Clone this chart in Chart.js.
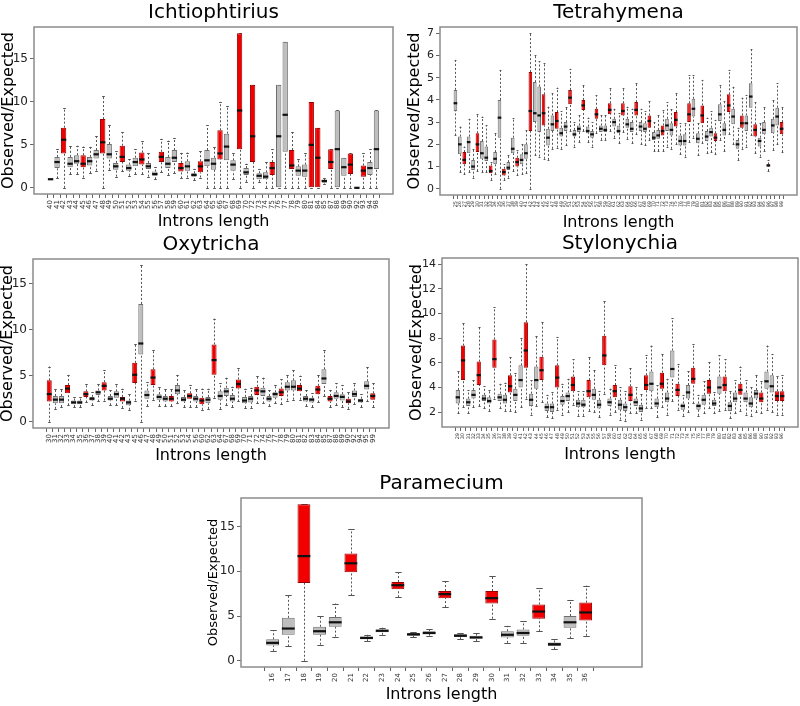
<!DOCTYPE html>
<html>
<head>
<meta charset="utf-8">
<script src="https://cdn.jsdelivr.net/npm/chart.js@4.4.1/dist/chart.umd.min.js"></script>
<style>
  body { margin: 0; background: #fff; width: 800px; height: 706px; position: relative; overflow: hidden; font-family: "DejaVu Sans", sans-serif; }
  canvas { position: absolute; }
</style>
</head>
<body>
<canvas id="ich"></canvas>
<canvas id="tet"></canvas>
<canvas id="oxy"></canvas>
<canvas id="sty"></canvas>
<canvas id="par"></canvas>
<script>
// ─── Ichtiophtirius ─────────────────────────────────────────────────────
var ichLabels = [40,41,42,43,44,45,46,47,48,49,50,51,52,53,54,55,56,57,58,59,60,61,62,63,64,65,66,67,68,69,70,72,73,74,75,76,77,78,79,80,81,84,85,87,88,89,90,92,93,94,98];
var ichLow  = [1.0,1.1,0,1.6,1.6,1.2,1.7,2.0,0,2.1, 1.3,1.9,1.4,1.6,1.6,1.3,1.0,1.8,1.5,1.7, 1.1,1.2,0.9,1.2,0,0,0,0,1.0,0, 0.7,0,0.7,0,0,0,0,0,0,0, 0,0,0.5,0,0,0,0,0,0,0, 0];
var ichQ1   = [1.0,2.3,4.0,2.4,2.8,2.4,2.6,3.4,4.0,3.4, 2.1,3.0,2.0,2.5,2.7,2.2,1.4,3.0,2.3,3.0, 1.9,2.0,1.3,1.8,2.5,2.1,3.3,3.2,2.0,4.5, 1.5,3.0,1.0,1.0,1.5,0,4.2,2.2,1.4,1.3, 0,0,0.6,2.2,0,1.4,1.6,0,1.3,1.5, 2.2];
var ichMed  = [1.0,3.0,5.6,2.8,3.1,2.8,3.1,3.9,5.3,3.9, 2.5,3.6,2.3,3.0,3.3,2.5,1.6,3.6,2.8,3.5, 2.3,2.5,1.5,2.5,3.2,2.8,4.0,4.8,2.7,9.0, 1.8,6.0,1.4,1.3,2.3,6.0,8.5,2.6,2.0,2.0, 5.0,3.5,0.8,3.0,4.5,2.4,2.7,0,2.0,2.3, 4.5];
var ichQ3   = [1.0,3.6,7.0,3.6,3.8,3.8,3.6,4.4,8.0,5.1, 2.9,4.9,2.7,3.5,4.1,2.9,1.9,4.2,3.6,4.4, 2.9,3.1,1.7,3.1,4.4,3.5,6.7,6.3,3.2,18.0, 2.3,12.0,1.7,1.8,3.0,12.0,17.0,4.4,2.5,2.7, 10.0,7.0,0.9,4.5,9.0,3.5,4.0,0,2.6,3.0, 9.0];
var ichHigh = [1.0,4.5,9.3,4.9,4.9,4.8,4.8,6.0,10.7,7.3, 4.3,6.5,3.3,4.5,5.4,4.0,2.4,5.7,5.5,5.8, 4.1,4.1,2.2,4.3,7.3,4.7,10.0,9.5,4.0,18.0, 2.8,12.0,2.2,3.0,4.5,12.0,17.0,6.5,3.3,4.0, 10.0,7.0,1.1,4.5,9.0,3.5,4.0,0,4.0,4.5, 9.0];
var ichTicks = [0, 5, 10, 15];

// ─── Tetrahymena ────────────────────────────────────────────────────────
var tetLabels = [25,26,27,28,29,30,31,32,33,34,35,36,37,38,39,40,41,42,43,44,45,46,47,48,49,50,51,52,53,54,55,56,57,58,59,60,61,62,63,64,65,66,67,68,69,70,71,72,73,74,75,76,77,78,79,80,81,82,83,84,85,86,87,88,89,90,91,92,93,94,95,96,97,98,99];
var tetLow  = [2.4,0.75,0.65,0.75,0.5,0.8,0.75,0.75,0.4,0.65, 0,0.4,0.5,0.8,0.6,0.65,0.7,0,1.5,1.45, 1.35,1.3,1.8,1.85,1.8,1.95,2.6,1.9,2.1,2.6, 2.1,1.9,2.5,2.2,2.2,2.6,2.3,2.05,2.55,2.25, 2.05,2.45,2.0,1.95,2.2,1.7,1.7,1.7,1.9,1.8, 2.0,1.55,1.45,2.1,2.3,1.5,2.05,1.6,1.65,1.55, 2.2,1.7,2.45,2.0,1.3,1.8,1.9,2.4,1.6,1.45, 1.7,0.8,1.75,2.0,1.65];
var tetQ1   = [3.5,1.55,1.1,1.6,0.85,1.65,1.35,1.25,0.7,1.1, 2.3,0.6,0.85,1.6,1.0,1.1,1.35,2.6,3.0,2.55, 2.85,1.95,2.6,2.7,2.35,2.6,3.8,2.35,2.55,3.55, 2.5,2.3,3.15,2.55,2.55,3.35,2.8,2.5,3.3,2.75, 2.55,3.3,2.6,2.55,2.75,2.2,2.25,2.4,2.6,2.4, 2.8,1.95,1.95,3.0,3.25,2.05,2.95,2.15,2.35,2.15, 3.05,2.4,3.45,2.9,1.8,2.75,2.6,3.65,2.35,1.9, 2.45,1.0,2.5,2.85,2.45];
var tetMed  = [3.85,2.0,1.3,2.1,1.0,2.0,1.6,1.4,0.8,1.35, 3.2,0.75,0.95,1.8,1.2,1.3,1.6,3.5,3.4,3.3, 3.4,2.3,2.9,3.05,2.5,2.8,4.1,2.45,2.7,3.75, 2.6,2.45,3.35,2.7,2.65,3.55,3.0,2.6,3.5,2.9, 2.7,3.55,2.8,2.7,3.05,2.3,2.4,2.6,2.85,2.65, 3.1,2.15,2.15,3.35,3.6,2.25,3.3,2.35,2.55,2.3, 3.35,2.65,3.75,3.25,2.0,2.95,2.95,4.15,2.65,2.15, 2.65,1.05,2.85,3.25,2.7];
var tetQ3   = [4.45,2.35,1.65,2.35,1.3,2.5,2.15,1.9,1.05,1.65, 4.0,0.9,1.2,2.3,1.4,1.55,2.0,5.25,4.8,4.6, 4.25,2.7,3.3,3.45,2.75,3.0,4.45,2.65,2.85,4.0, 2.8,2.6,3.6,2.85,2.85,3.85,3.15,2.85,3.85,3.15, 3.0,3.9,3.0,2.95,3.3,2.55,2.65,2.85,3.15,2.95, 3.45,2.4,2.45,3.85,4.05,2.5,3.75,2.6,2.75,2.5, 3.8,2.95,4.25,3.6,2.2,3.3,3.3,4.75,2.9,2.3, 3.0,1.1,3.15,3.65,3.0];
var tetHigh = [5.8,2.8,1.9,3.15,1.8,3.35,3.25,2.85,1.2,2.5, 5.35,1.1,1.5,3.2,1.75,2.0,2.65,7.0,6.0,5.75, 5.65,3.7,4.3,4.55,3.5,3.7,5.4,3.0,3.3,4.65, 3.2,3.0,4.2,3.3,3.3,4.55,3.6,3.4,4.55,3.7, 3.6,4.75,3.6,3.5,3.95,3.0,3.3,3.55,3.9,3.6, 4.3,2.95,2.95,5.1,5.1,2.95,4.9,3.2,3.5,3.1, 4.65,3.95,5.35,4.6,2.75,4.1,4.2,6.3,3.9,2.95, 3.7,1.3,4.0,4.75,3.7];
var tetTicks = [0, 1, 2, 3, 4, 5, 6, 7];

// ─── Oxytricha ──────────────────────────────────────────────────────────
var oxyLabels = [30,31,32,33,34,35,36,37,38,39,40,41,42,43,45,46,47,48,49,50,51,52,53,54,56,60,62,63,64,67,68,69,70,71,72,74,76,77,78,79,80,81,82,83,84,85,87,88,89,90,92,94,95,99];
var oxyLow  = [0,1.4,1.6,1.8,1.6,1.6,2.1,1.8,2.2,2.3, 1.8,1.8,1.5,1.3,2.3,0,1.7,2.4,1.7,1.7, 1.7,2.0,1.6,1.6,1.6,1.3,1.4,2.6,1.4,1.8, 1.6,2.2,1.5,1.5,2.0,2.0,1.7,2.0,1.9,2.3, 2.4,2.4,1.7,1.6,2.1,2.8,1.6,1.8,1.6,1.4, 1.9,1.6,2.2,1.6];
var oxyQ1   = [2.2,2.0,2.0,3.1,1.9,1.9,2.7,2.3,2.9,3.4, 2.3,2.6,2.2,1.8,4.2,7.3,2.5,4.0,2.4,2.2, 2.2,3.0,2.2,2.5,2.2,1.9,2.0,5.1,2.4,2.8, 2.2,3.6,2.0,2.1,2.9,2.8,2.2,2.6,2.8,3.4, 3.4,3.3,2.2,2.1,3.0,4.1,2.2,2.5,2.3,2.0, 2.7,2.1,3.5,2.4];
var oxyMed  = [3.0,2.4,2.4,3.6,2.1,2.1,3.0,2.5,3.2,3.9, 2.5,3.0,2.5,2.1,5.1,8.5,2.9,4.8,2.7,2.5, 2.5,3.4,2.4,2.8,2.5,2.3,2.4,6.7,2.8,3.3, 2.5,4.1,2.3,2.5,3.4,3.3,2.5,3.0,3.2,3.8, 3.8,3.6,2.5,2.4,3.5,4.7,2.5,2.8,2.7,2.2, 3.0,2.3,3.9,2.8];
var oxyQ3   = [4.5,2.8,2.8,4.0,2.3,2.3,3.3,2.7,3.4,4.3, 2.8,3.3,2.7,2.3,6.4,12.8,3.4,5.7,3.0,2.8, 2.8,4.0,2.7,3.1,2.8,2.6,2.7,8.4,3.3,3.7, 2.9,4.6,2.7,2.8,3.8,3.7,2.8,3.2,3.6,4.3, 4.5,4.0,2.8,2.6,3.9,5.7,2.8,3.2,3.0,2.5, 3.4,2.5,4.4,3.1];
var oxyHigh = [6.0,3.6,3.6,5.1,2.7,2.7,4.1,3.2,4.1,5.6, 3.4,4.1,3.6,3.0,8.5,17.0,4.3,7.8,3.8,3.6, 3.6,5.1,3.4,4.0,3.6,3.6,3.6,11.2,4.2,4.8, 3.8,5.8,3.6,3.7,5.0,4.8,3.5,4.0,4.6,5.1, 5.6,5.0,3.4,3.1,5.1,7.8,3.5,4.2,4.0,3.2, 4.2,3.0,6.0,4.2];
var oxyTicks = [0, 5, 10, 15];

// ─── Stylonychia ────────────────────────────────────────────────────────
var styLabels = [29,30,31,32,33,34,35,36,37,38,39,40,41,42,43,44,45,46,47,48,49,50,51,52,53,54,55,56,57,58,60,61,62,63,64,65,66,67,68,69,70,71,72,73,74,75,76,77,78,79,80,81,82,83,84,85,86,88,90,91,92,93,96];
var styLow  = [1.9,2.4,1.9,2.4,2.5,2.3,2.1,3.1,2.3,2.1, 2.1,2.0,2.4,3.1,1.8,2.5,2.8,1.6,1.5,2.2, 1.8,2.0,2.6,1.7,1.7,2.1,2.0,1.6,3.5,1.8, 2.0,1.4,1.3,1.9,1.9,1.4,2.3,2.3,1.6,2.4, 1.8,2.9,2.2,1.7,2.0,2.7,1.7,1.9,2.3,1.9, 2.1,2.2,1.5,1.9,2.1,1.8,1.7,2.0,1.9,2.2, 2.0,1.8,1.8];
var styQ1   = [2.7,4.6,2.5,3.1,4.2,2.9,2.7,5.6,2.9,2.7, 3.6,2.9,4.0,5.6,2.5,3.9,4.6,2.1,2.0,4.0, 2.6,2.9,3.7,2.4,2.4,3.2,3.0,2.3,5.8,2.5, 3.2,2.2,2.1,2.9,2.5,2.0,3.8,3.7,2.4,3.9, 2.8,4.8,3.3,2.2,3.1,4.3,2.2,2.6,3.5,2.5, 3.5,3.7,2.1,2.8,3.4,2.8,2.4,3.1,2.8,3.9, 3.6,2.9,2.9];
var styMed  = [3.2,6.2,2.8,3.4,5.0,3.1,2.9,6.3,3.2,3.0, 4.1,3.4,4.6,7.0,3.0,4.6,5.4,2.4,2.4,4.8, 2.9,3.3,4.2,2.7,2.6,3.7,3.4,2.6,6.6,2.8, 3.7,2.6,2.4,3.4,2.8,2.3,4.2,4.3,2.7,4.3, 3.1,5.5,3.8,2.5,3.6,4.7,2.5,3.0,4.0,2.7, 4.0,4.2,2.5,3.1,3.8,3.1,2.7,3.5,3.1,4.5, 4.1,3.3,3.3];
var styQ3   = [3.8,7.4,3.1,3.8,6.1,3.4,3.2,7.9,3.5,3.4, 5.0,3.9,5.8,9.3,3.5,5.7,6.5,2.7,2.7,5.8, 3.3,3.6,4.9,3.0,3.0,4.6,3.9,3.0,8.2,3.1, 4.2,3.0,2.7,4.1,3.1,2.6,5.0,5.3,3.1,5.2, 3.6,7.0,4.3,2.7,4.2,5.6,2.7,3.4,4.6,3.0, 4.9,4.9,2.8,3.6,4.3,3.6,3.2,3.8,3.6,5.3, 5.0,3.7,3.7];
var styHigh = [5.3,9.2,3.8,4.6,8.9,4.1,3.8,10.5,4.3,4.4, 6.5,5.2,8.0,14.0,4.6,8.2,9.3,3.4,3.6,8.1, 4.3,4.7,6.3,3.7,3.7,6.5,5.4,3.7,11.0,3.9, 5.8,4.0,3.7,5.6,4.0,3.5,6.6,7.4,4.2,6.7, 4.7,9.6,5.9,3.4,5.3,7.5,3.4,4.5,6.1,3.6, 6.6,6.3,3.7,4.6,5.7,4.6,4.0,5.0,4.5,7.4, 6.7,4.9,5.0];
var styTicks = [2, 4, 6, 8, 10, 12, 14];

// ─── Paramecium ─────────────────────────────────────────────────────────
var parLabels = [16,17,18,19,20,21,22,23,24,25,26,27,28,29,30,31,32,33,34,35,36];
var parLow  = [1.1,1.6,0,1.8,2.7,7.3,2.2,2.9,7.1,2.6,2.8,6.0,2.4,2.2,4.7,2.0,2.0,3.3,1.3,2.5,2.8];
var parQ1   = [1.7,2.9,8.7,2.9,3.8,9.9,2.4,3.2,8.0,2.8,3.0,7.0,2.65,2.5,6.4,2.6,2.8,4.7,1.65,3.7,4.5];
var parMed  = [2.0,3.6,11.7,3.3,4.3,10.9,2.55,3.35,8.45,2.95,3.1,7.45,2.8,2.6,7.0,2.9,3.1,5.5,1.85,4.3,5.4];
var parQ3   = [2.4,4.8,17.5,3.8,4.9,12.0,2.7,3.5,8.8,3.1,3.3,7.8,2.95,2.8,7.8,3.3,3.5,6.3,2.05,5.0,6.5];
var parHigh = [3.4,7.3,17.5,5.0,6.4,14.7,2.9,3.7,9.9,3.2,3.5,8.9,3.1,3.1,9.5,3.9,4.4,8.1,2.4,6.8,8.4];
var parTicks = [0, 5, 10, 15];

// Colors
var boxGrey = '#bebebe';
var boxGreyEdge = '#6e6e6e';
var boxRed = '#f20000';
var boxRedEdge = '#9a0000';
var frameGrey = '#8c8c8c';

// lengths divisible by 3 are drawn red
function isRed(label) { return label % 3 === 0; }

// whiskers, caps and medians drawn through the chart's scales
var boxPlugin = {
    id: 'boxParts',
    beforeDatasetsDraw: function (chart) {
        var s = chart.options.plugins.boxParts;
        var ctx = chart.ctx, x = chart.scales.x, y = chart.scales.y;
        var meta = chart.getDatasetMeta(0);
        ctx.save();
        ctx.strokeStyle = '#555';
        ctx.lineWidth = 1;
        s.low.forEach(function (lo, i) {
            var px = Math.round(x.getPixelForValue(i)) + 0.5;
            var w = meta.data[i].width;
            ctx.setLineDash([2, 2]);
            ctx.beginPath();
            if (s.q1[i] > lo) { ctx.moveTo(px, y.getPixelForValue(lo)); ctx.lineTo(px, y.getPixelForValue(s.q1[i])); }
            if (s.high[i] > s.q3[i]) { ctx.moveTo(px, y.getPixelForValue(s.q3[i])); ctx.lineTo(px, y.getPixelForValue(s.high[i])); }
            ctx.stroke();
            ctx.setLineDash([]);
            ctx.beginPath();
            [lo, s.high[i]].forEach(function (v) {
                var py = Math.round(y.getPixelForValue(v)) + 0.5;
                ctx.moveTo(px - w / 4, py);
                ctx.lineTo(px + w / 4, py);
            });
            ctx.stroke();
        });
        ctx.restore();
    },
    afterDatasetsDraw: function (chart) {
        var s = chart.options.plugins.boxParts;
        var ctx = chart.ctx, x = chart.scales.x, y = chart.scales.y;
        var meta = chart.getDatasetMeta(0);
        ctx.save();
        ctx.strokeStyle = '#111';
        ctx.lineWidth = 2.2;
        s.med.forEach(function (m, i) {
            var px = x.getPixelForValue(i);
            var w = meta.data[i].width;
            var py = y.getPixelForValue(m);
            ctx.beginPath();
            ctx.moveTo(px - w / 2, py);
            ctx.lineTo(px + w / 2, py);
            ctx.stroke();
        });
        ctx.restore();
    },
    afterDraw: function (chart) {
        var a = chart.chartArea, ctx = chart.ctx;
        ctx.save();
        ctx.strokeStyle = frameGrey;
        ctx.lineWidth = 1.5;
        ctx.strokeRect(a.left, a.top, a.right - a.left, a.bottom - a.top);
        ctx.restore();
    }
};

var AXW = 36, TH = 28, XH = 38;

function makePanel(id, title, area, labels, low, q1, med, q3, high, yTicks, f) {
    var n = labels.length;
    var lo = Math.min.apply(null, low), hi = Math.max.apply(null, high);
    var yPad = (hi - lo) * 0.04;
    var padL = f.xPad, padR = f.xPadR !== undefined ? f.xPadR : f.xPad;
    var cv = document.getElementById(id);
    cv.width = Math.round(area.r - area.l) + AXW + 4;
    cv.height = Math.round(area.b - area.t) + TH + XH;
    cv.style.left = Math.round(area.l - AXW) + 'px';
    cv.style.top = Math.round(area.t - TH) + 'px';

    new Chart(cv.getContext('2d'), {
        type: 'bar',
        data: {
            datasets: [{
                data: labels.map(function (l, i) { return { x: i, y: [q1[i], q3[i]] }; }),
                backgroundColor: function (c) { return isRed(labels[c.dataIndex]) ? boxRed : boxGrey; },
                borderColor: function (c) { return isRed(labels[c.dataIndex]) ? boxRedEdge : boxGreyEdge; },
                borderWidth: 1,
                borderSkipped: false,
                barPercentage: 0.82,
                categoryPercentage: 1
            }]
        },
        options: {
            responsive: false,
            animation: false,
            layout: { padding: { left: 0, right: 4, top: 0, bottom: 0 } },
            plugins: {
                legend: { display: false },
                tooltip: { enabled: false },
                title: {
                    display: true, text: title, fullSize: false, color: '#000',
                    font: { family: 'DejaVu Sans', size: 20, weight: 'normal' },
                    padding: { top: 2, bottom: 2 }
                },
                boxParts: { low: low, q1: q1, med: med, q3: q3, high: high }
            },
            scales: {
                x: {
                    type: 'linear', offset: false,
                    min: -0.5 - padL, max: n - 0.5 + padR,
                    afterBuildTicks: function (ax) { ax.ticks = labels.map(function (l, i) { return { value: i }; }); },
                    afterFit: function (ax) { ax.height = XH; },
                    ticks: {
                        autoSkip: false, minRotation: 90, maxRotation: 90, padding: 2,
                        color: '#333', font: { family: 'DejaVu Sans', size: f.xTick },
                        callback: function (v) { return labels[v] !== undefined ? String(labels[v]) : ''; }
                    },
                    grid: { display: true, drawOnChartArea: false, drawTicks: true, tickLength: 4, color: '#666' },
                    border: { display: false },
                    title: {
                        display: true, text: 'Introns length', color: '#000',
                        font: { family: 'DejaVu Sans', size: 16 }, padding: { top: 0, bottom: 1 }
                    }
                },
                y: {
                    min: lo - yPad, max: hi + yPad,
                    afterBuildTicks: function (ax) { ax.ticks = yTicks.map(function (v) { return { value: v }; }); },
                    afterFit: function (ax) { ax.width = AXW; },
                    ticks: {
                        padding: 2, color: '#222',
                        font: { family: 'DejaVu Sans', size: f.yTick }
                    },
                    grid: { display: true, drawOnChartArea: false, drawTicks: true, tickLength: 4, color: '#666' },
                    border: { display: false },
                    title: {
                        display: true, text: 'Observed/Expected', color: '#000',
                        font: { family: 'DejaVu Sans', size: f.yTitle }, padding: { top: 1, bottom: 0 }
                    }
                }
            }
        },
        plugins: [boxPlugin]
    });
}

makePanel('ich', 'Ichtiophtirius', { l: 34, t: 27, r: 393, b: 194 },
    ichLabels, ichLow, ichQ1, ichMed, ichQ3, ichHigh, ichTicks, { xPad: 2.04, xTick: 7, yTick: 12, yTitle: 16 });
makePanel('tet', 'Tetrahymena', { l: 440, t: 27, r: 797, b: 195 },
    tetLabels, tetLow, tetQ1, tetMed, tetQ3, tetHigh, tetTicks, { xPad: 3.0, xTick: 5, yTick: 11, yTitle: 16 });
makePanel('oxy', 'Oxytricha', { l: 33, t: 259, r: 389, b: 428 },
    oxyLabels, oxyLow, oxyQ1, oxyMed, oxyQ3, oxyHigh, oxyTicks, { xPad: 2.16, xTick: 7, yTick: 12, yTitle: 16 });
makePanel('sty', 'Stylonychia', { l: 442, t: 258, r: 798, b: 427 },
    styLabels, styLow, styQ1, styMed, styQ3, styHigh, styTicks, { xPad: 2.52, xTick: 5, yTick: 11, yTitle: 16 });
makePanel('par', 'Paramecium', { l: 241, t: 498, r: 642, b: 667 },
    parLabels, parLow, parQ1, parMed, parQ3, parHigh, parTicks, { xPad: 1.52, xPadR: 3.1, xTick: 7, yTick: 12, yTitle: 13 });
</script>
</body>
</html>
